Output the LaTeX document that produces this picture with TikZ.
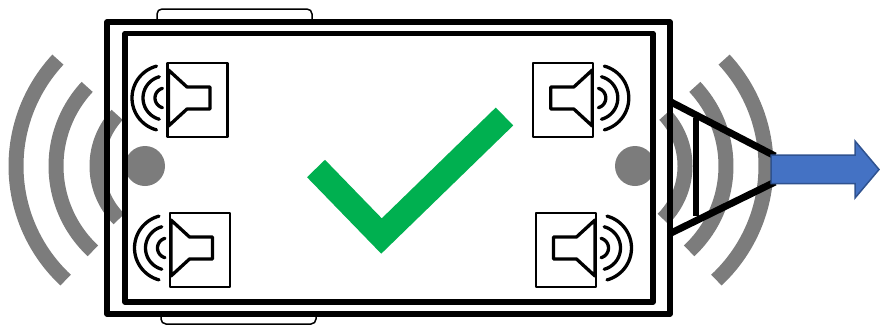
\documentclass[tikz,border=0pt]{standalone}
\definecolor{wavegray}{HTML}{7C7C7C}
\definecolor{tickgreen}{HTML}{00B050}
\definecolor{arrowblue}{HTML}{4472C4}
\definecolor{arrowedge}{HTML}{2F528F}
\tikzset{
  wave/.style={draw=wavegray,line width=15pt,line cap=butt},
  wall/.style={draw=black,line width=5.5pt,line join=round},
  tab/.style={draw=black,line width=1.5pt,rounded corners=5pt},
  spkbox/.style={draw=black,line width=2.2pt,line join=round},
  cone/.style={draw=black,line width=3.3pt,line join=round},
  ring/.style={draw=black,line width=3.3pt,line cap=round},
  funnel/.style={draw=black,line width=7pt},
}
\newcommand{\speaker}[3]{%
  \begin{scope}[shift={(#1,#2)},xscale=#3]
    \draw[spkbox] (-30,-36.7) rectangle (30,36.7);
    \draw[cone] (-29,-30) -- (-10.5,-13) -- (12.5,-13) -- (12.5,9) -- (-10.5,9) -- (-29,26) -- cycle;
    \draw[ring] plot[domain=105:255,samples=30] ({-32.5+33*cos(\x)},{-2+33*sin(\x)});
    \draw[ring] plot[domain=105:255,samples=24] ({-32.5+22*cos(\x)},{-2+22*sin(\x)});
    \draw[ring] plot[domain=105:255,samples=16] ({-32.5+10*cos(\x)},{-2+10*sin(\x)});
  \end{scope}}
\newcommand{\wavearc}[5]{%
  \draw[wave] plot[domain=#4:#5,samples=50] ({#1+#3*cos(\x)},{#2+#3*sin(\x)});}
\begin{document}
\begin{tikzpicture}[x=1pt,y=-1pt]
  \useasboundingbox (0,0) rectangle (880,325);
  % sound waves and sources
  \wavearc{172}{166}{156}{223}{133}
  \wavearc{172}{166}{116}{223}{133}
  \wavearc{172}{166}{75}{223}{135}
  \wavearc{610}{166}{156}{-43}{47}
  \wavearc{610}{166}{116}{-43}{47}
  \wavearc{610}{166}{75}{-43}{45}
  \fill[wavegray] (145,166) circle (20);
  \fill[wavegray] (635,166) circle (20);
  % tabs
  \draw[tab] (157,22) -- (157,9) -- (312,9) -- (312,22);
  \draw[tab] (161,314) -- (161,324) -- (316,324) -- (316,314);
  % housing
  \draw[wall] (107,22) rectangle (670,314);
  \draw[wall] (125,33.5) rectangle (653,302);
  % speakers
  \speaker{197.5}{100}{1}
  \speaker{200}{250}{1}
  \speaker{563.3}{100}{-1}
  \speaker{566}{250}{-1}
  % check mark
  \draw[tickgreen,line width=25pt,line join=miter] (316,168.5) -- (381.5,236) -- (504.5,116.5);
  % funnel
  \draw[funnel] (671,102) -- (775,156);
  \draw[funnel] (671,233) -- (775,182);
  \draw[draw=black,line width=6.5pt] (696,118) -- (696,216);
  % arrow
  \draw[fill=arrowblue,draw=arrowedge,line width=1.5pt,line join=miter]
    (771,155) -- (855,155) -- (855,141) -- (879,169.5) -- (855,198) -- (855,183.5) -- (771,183.5) -- cycle;
\end{tikzpicture}
\end{document}
